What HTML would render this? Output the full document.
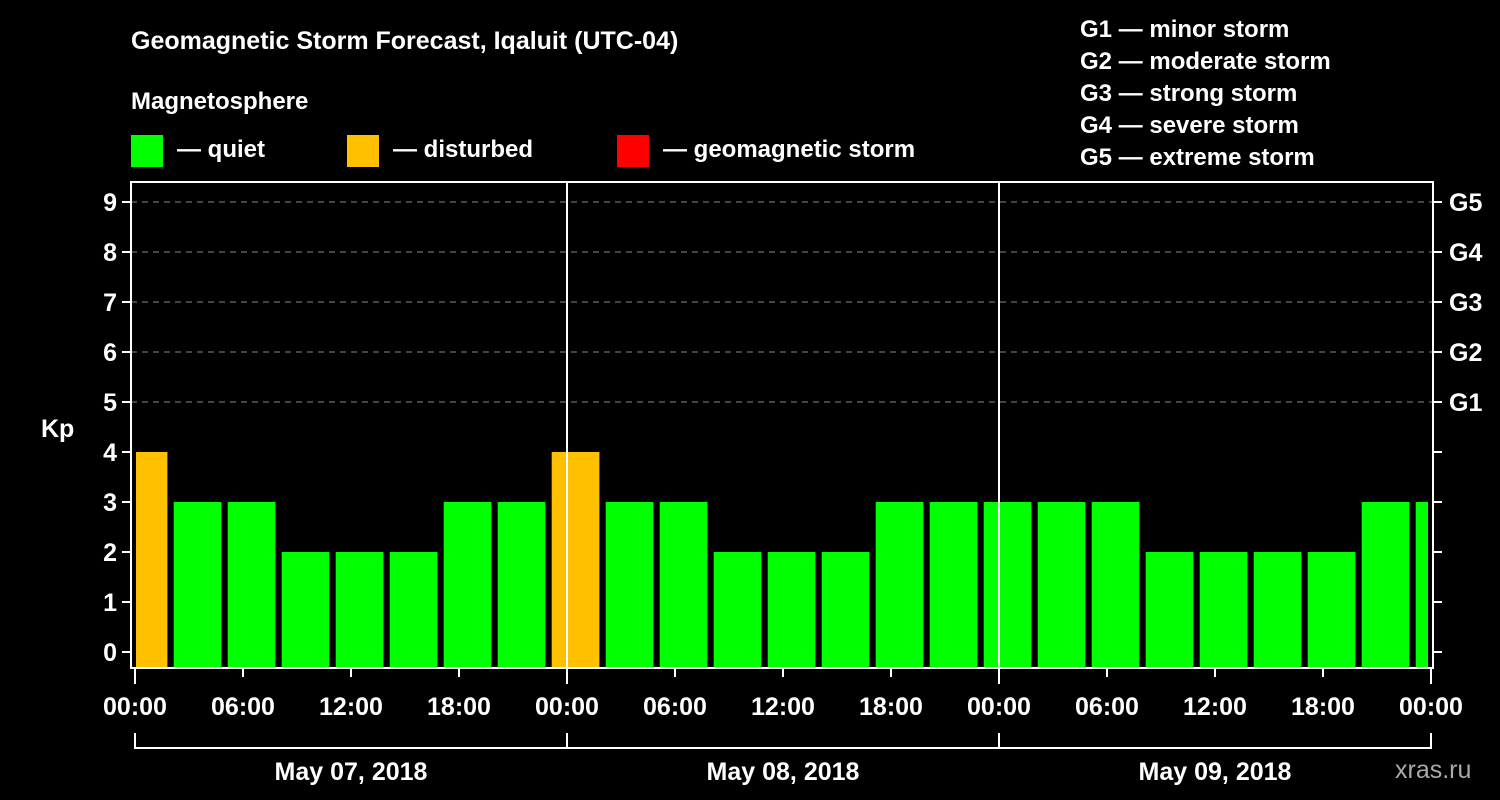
<!DOCTYPE html>
<html><head><meta charset="utf-8"><style>
body{margin:0;background:#000;}
svg{display:block;font-family:"Liberation Sans",Arial,sans-serif;font-weight:bold;}
</style></head><body>
<svg id="chart" width="1500" height="800" xmlns="http://www.w3.org/2000/svg">
<rect width="1500" height="800" fill="#000"/>
<text x="131" y="49" fill="#fff" font-size="25">Geomagnetic Storm Forecast, Iqaluit (UTC-04)</text>
<text x="131" y="109" fill="#fff" font-size="24">Magnetosphere</text>
<rect x="131" y="135" width="32" height="32" fill="#00ff00"/>
<text x="177" y="157" fill="#fff" font-size="24">— quiet</text>
<rect x="347" y="135" width="32" height="32" fill="#ffc000"/>
<text x="393" y="157" fill="#fff" font-size="24">— disturbed</text>
<rect x="617" y="135" width="32" height="32" fill="#ff0000"/>
<text x="663" y="157" fill="#fff" font-size="24">— geomagnetic storm</text>
<g fill="#fff" font-size="24">
<text x="1080" y="37">G1 — minor storm</text>
<text x="1080" y="69">G2 — moderate storm</text>
<text x="1080" y="101">G3 — strong storm</text>
<text x="1080" y="133">G4 — severe storm</text>
<text x="1080" y="165">G5 — extreme storm</text>
</g>
<text x="41" y="437" fill="#fff" font-size="25">Kp</text>
<text x="1395" y="778" fill="#aaa" font-size="25" font-weight="normal">xras.ru</text>
<g id="grid"></g><g id="bars"></g><g id="axes"></g>
</svg>
<script>
const kpValues=[4,3,3,2,2,2,3,3,4,3,3,2,2,2,3,3,3,3,3,2,2,2,2,3,3];
const dayLabels=["May 07, 2018","May 08, 2018","May 09, 2018"];
const timeLabels=["00:00","06:00","12:00","18:00"];
const gLabels=["G1","G2","G3","G4","G5"];
const NS="http://www.w3.org/2000/svg";
const X0=135,PX_H=18,L=131,R=1433,T=182,B=668;
const xs=h=>X0+h*PX_H;
const ys=v=>652-v*50;
function mk(p,tag,a){const e=document.createElementNS(NS,tag);for(const k in a)e.setAttribute(k,a[k]);p.appendChild(e);return e;}
const grid=document.getElementById('grid'),bars=document.getElementById('bars'),axes=document.getElementById('axes');
for(let v=5;v<=9;v++){const g=mk(grid,'line',{x1:L,x2:R,y1:ys(v),y2:ys(v),stroke:'#888','stroke-dasharray':'6,5'});

}
kpValues.forEach((v,i)=>{let x1=xs(i*3-0.85),x2=xs(i*3+1.8);x1=Math.max(x1,L+5);x2=Math.min(x2,R-5);
const c=v>=5?'#ff0000':(v>=4?'#ffc000':'#00ff00');
const r=mk(bars,'rect',{x:x1,y:ys(v),width:x2-x1,height:B-ys(v),fill:c});

});
const fr=mk(axes,'rect',{x:L,y:T,width:R-L,height:B-T,fill:'none',stroke:'#fff','stroke-width':2});


for(let d=1;d<3;d++){const l=mk(axes,'line',{x1:xs(d*24),x2:xs(d*24),y1:T,y2:B,stroke:'#fff','stroke-width':2});

}
for(let v=0;v<=9;v++){
mk(axes,'line',{x1:L-9,x2:L,y1:ys(v),y2:ys(v),stroke:'#fff','stroke-width':2});
mk(axes,'line',{x1:R,x2:R+9,y1:ys(v),y2:ys(v),stroke:'#fff','stroke-width':2});
const t=mk(axes,'text',{x:L-14,y:ys(v)+9,fill:'#fff','font-size':25,'text-anchor':'end'});t.textContent=v;

}
gLabels.forEach((g,i)=>{const t=mk(axes,'text',{x:R+16,y:ys(5+i)+9,fill:'#fff','font-size':25});t.textContent=g;

});
for(let h=0;h<=72;h+=6){const major=h%24===0;
mk(axes,'line',{x1:xs(h),x2:xs(h),y1:B,y2:B+(major?16:9),stroke:'#fff','stroke-width':2});
const t=mk(axes,'text',{x:xs(h),y:715,fill:'#fff','font-size':25,'text-anchor':'middle'});t.textContent=timeLabels[(h/6)%4];

}
mk(axes,'line',{x1:xs(0),x2:xs(72),y1:748,y2:748,stroke:'#fff','stroke-width':2});
for(let d=0;d<=3;d++)mk(axes,'line',{x1:xs(d*24),x2:xs(d*24),y1:733,y2:749,stroke:'#fff','stroke-width':2});
dayLabels.forEach((s,i)=>{const t=mk(axes,'text',{x:xs(i*24+12),y:780,fill:'#fff','font-size':25,'text-anchor':'middle'});t.textContent=s;

});
</script>
</body></html>
